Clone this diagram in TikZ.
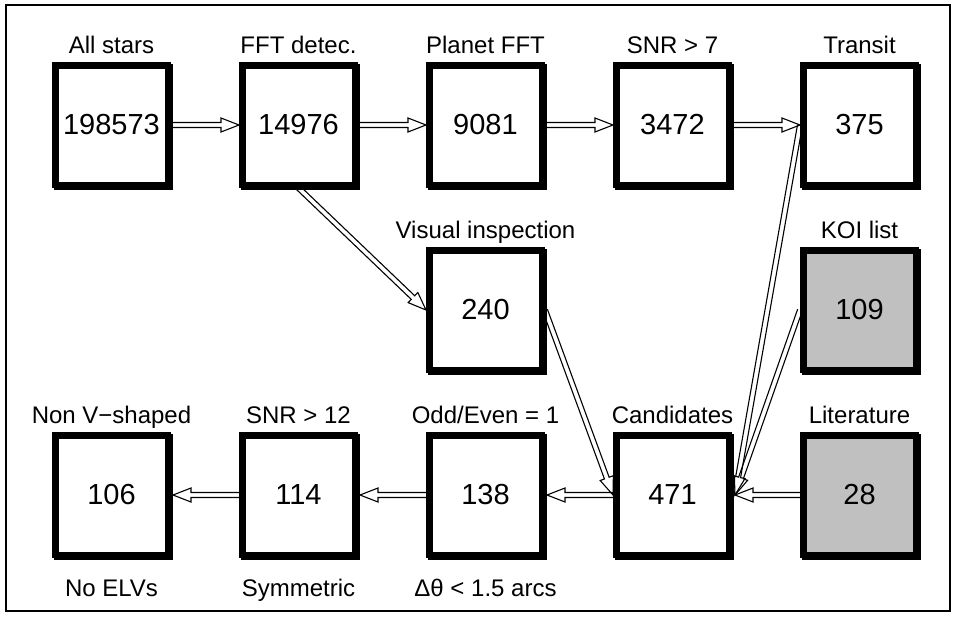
\documentclass[tikz,border=0pt]{standalone}
\usepackage{fontspec}
\setmainfont{Liberation Sans}
\usetikzlibrary{calc}
\definecolor{boxgrey}{RGB}{192,192,192}
\newcommand\hollowarrow[2]{%
  \coordinate (hbA) at ($(#2)!18pt!(#1)$);
  \draw[arrowline] ($(#1)!2.5pt!90:(#2)$) -- ($(hbA)!2.5pt!-90:(#1)$) -- ($(hbA)!7pt!-90:(#1)$) -- (#2) -- ($(hbA)!7pt!90:(#1)$) -- ($(hbA)!2.5pt!90:(#1)$) -- ($(#1)!2.5pt!-90:(#2)$);
}
\begin{document}
\begin{tikzpicture}[x=1pt,y=-1pt,
  box/.style={draw=black, line width=6.5pt, fill=white, minimum width=112.5pt, minimum height=119.5pt, inner sep=0pt,
    preaction={draw=black, line width=6.5pt, transform canvas={xshift=2pt,yshift=-2pt}},
    font=\fontsize{29}{34}\selectfont},
  greybox/.style={box, fill=boxgrey},
  lab/.style={font=\fontsize{24}{28}\selectfont, inner sep=0pt, anchor=base},
  arrowline/.style={draw=black, line width=1.1pt, line join=miter}]
\useasboundingbox (0,0) rectangle (956,616);
\draw[line width=1.2pt] (6,5) rectangle (950,611);
% row 1
\node[box] (c1) at (111.5,125) {198573};
\node[box] (c2) at (298.5,125) {14976};
\node[box] (c3) at (485.5,125) {9081};
\node[box] (c4) at (672.5,125) {3472};
\node[box] (c5) at (859.5,125) {375};
% row 2
\node[box] (v) at (485.5,310) {240};
\node[greybox] (k) at (859.5,310) {109};
% row 3
\node[box] (d1) at (111.5,495) {106};
\node[box] (d2) at (298.5,495) {114};
\node[box] (d3) at (485.5,495) {138};
\node[box] (d4) at (672.5,495) {471};
\node[greybox] (lit) at (859.5,495) {28};
% labels above
\node[lab] (l1) at ($(c1.north)+(0,-9)$) {All stars};
\node[lab] (l2) at ($(c2.north)+(0,-9)$) {FFT detec.};
\node[lab] (l3) at ($(c3.north)+(0,-9)$) {Planet FFT};
\node[lab] (l4) at ($(c4.north)+(0,-9)$) {SNR > 7};
\node[lab] (l5) at ($(c5.north)+(0,-9)$) {Transit};
\node[lab] (lv) at ($(v.north)+(0,-9)$) {Visual inspection};
\node[lab] (lk) at ($(k.north)+(0,-9)$) {KOI list};
\node[lab] (m1) at ($(d1.north)+(0,-9)$) {Non V−shaped};
\node[lab] (m2) at ($(d2.north)+(0,-9)$) {SNR > 12};
\node[lab] (m3) at ($(d3.north)+(0,-9)$) {Odd/Even = 1};
\node[lab] (m4) at ($(d4.north)+(0,-9)$) {Candidates};
\node[lab] (m5) at ($(lit.north)+(0,-9)$) {Literature};
% labels below
\node[lab] (b1) at ($(d1.south)+(0,38)$) {No ELVs};
\node[lab] (b2) at ($(d2.south)+(0,38)$) {Symmetric};
\node[lab] (b3) at ($(d3.south)+(0,38)$) {Δθ < 1.5 arcs};
% tip coordinates on the shadowed right edges
\coordinate (d1e) at ([xshift=2pt]d1.east);
\coordinate (d2e) at ([xshift=2pt]d2.east);
\coordinate (d3e) at ([xshift=2pt]d3.east);
\coordinate (d4e) at ([xshift=3pt]d4.east);
% arrows
\hollowarrow{c1.east}{c2.west}
\hollowarrow{c2.east}{c3.west}
\hollowarrow{c3.east}{c4.west}
\hollowarrow{c4.east}{c5.west}
\hollowarrow{c2.south}{v.west}
\hollowarrow{v.east}{d4.west}
\hollowarrow{c5.west}{d4e}
\hollowarrow{k.west}{d4e}
\hollowarrow{lit.west}{d4e}
\hollowarrow{d4.west}{d3e}
\hollowarrow{d3.west}{d2e}
\hollowarrow{d2.west}{d1e}
\end{tikzpicture}
\end{document}
